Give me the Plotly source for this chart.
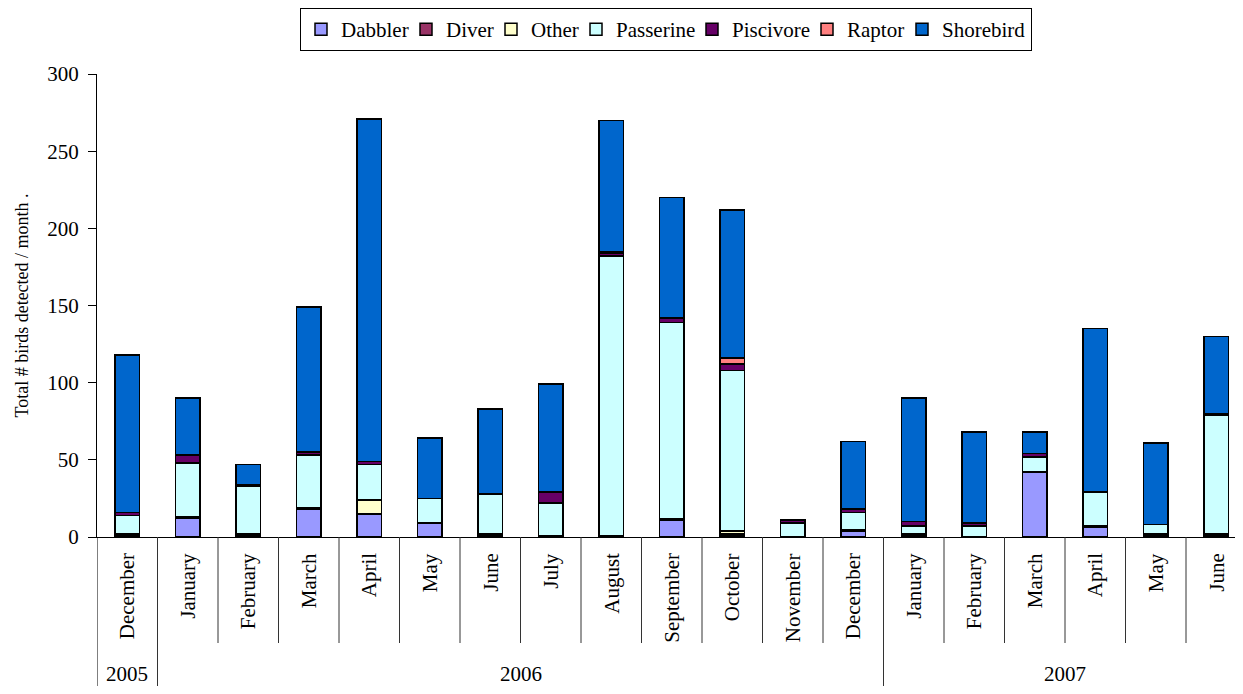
import plotly.graph_objects as go

months = ["December", "January", "February", "March", "April", "May", "June",
          "July", "August", "September", "October", "November", "December",
          "January", "February", "March", "April", "May", "June"]
years = ["2005", "2006", "2007"]
year_counts = [1, 12, 6]

categories = ["Dabbler", "Diver", "Other", "Passerine", "Piscivore", "Raptor", "Shorebird"]
dabbler   = [1, 12, 1, 18, 15, 9, 1, 1, 0, 11, 1, 0, 4, 1, 0, 42, 6, 1, 1]
diver     = [1, 1, 1, 1, 0, 0, 1, 0, 1, 1, 1, 0, 1, 1, 0, 0, 1, 1, 1]
other     = [0, 0, 0, 0, 9, 0, 0, 0, 0, 0, 2, 0, 0, 0, 0, 0, 0, 0, 0]
passerine = [12, 35, 31, 34, 23, 16, 26, 21, 181, 127, 104, 9, 11, 5, 7, 10, 22, 6, 77]
piscivore = [2, 5, 1, 2, 2, 0, 0, 7, 2, 3, 4, 2, 2, 3, 2, 2, 0, 0, 1]
raptor    = [0, 0, 0, 0, 0, 0, 0, 0, 1, 0, 4, 0, 0, 0, 0, 0, 0, 0, 0]
shorebird = [102, 37, 13, 94, 222, 39, 55, 70, 85, 78, 96, 0, 44, 80, 59, 14, 106, 53, 50]

series = [dabbler, diver, other, passerine, piscivore, raptor, shorebird]
colors = ["#9999FF", "#993366", "#FFFFCC", "#CCFFFF", "#660066", "#FF8080", "#0066CC"]
# legend entry widths (px) to keep the legend compact like the original
legend_widths = [60, 40, 40, 71, 70, 50, 84]

FONT = "Liberation Serif, Times New Roman, serif"
x = list(range(len(months)))

fig = go.Figure()
for name, vals, col, lw in zip(categories, series, colors, legend_widths):
    fig.add_trace(go.Bar(x=x, y=vals, name=name, legendwidth=lw,
                         marker=dict(color=col, line=dict(color="black", width=1.5))))

# page has an 8px body margin; figure sized to fit the window exactly
W, H = 1227, 678
OFF = 8
top, bottom = 74 - OFF, 537 - OFF     # plot area in figure pixels
ph = bottom - top
def py(p_page):
    return (bottom - (p_page - OFF)) / ph

shapes = []
annotations = []
# month separators
for i in range(len(months) - 1):
    shapes.append(dict(type="line", xref="x", yref="paper", x0=i + 0.5, x1=i + 0.5,
                       y0=0, y1=py(643), line=dict(color="#333333", width=1)))
# year separators and year labels
start = 0
for yi, (yr, n) in enumerate(zip(years, year_counts)):
    end = start + n
    if yi < len(years) - 1:
        shapes.append(dict(type="line", xref="x", yref="paper", x0=end - 0.5, x1=end - 0.5,
                           y0=0, y1=py(687), line=dict(color="#333333", width=1)))
    annotations.append(dict(x=(start + end - 1) / 2, y=py(674), xref="x", yref="paper",
                            text=yr, showarrow=False, xanchor="center", yanchor="middle",
                            font=dict(family=FONT, size=21, color="black")))
    start = end
# left axis extension
shapes.append(dict(type="line", xref="x", yref="paper", x0=-0.5, x1=-0.5,
                   y0=0, y1=py(700), line=dict(color="black", width=1)))
# month labels
for i, m in enumerate(months):
    annotations.append(dict(x=i, y=py(551), xref="x", yref="paper", text=m,
                            showarrow=False, textangle=-90, xanchor="center", yanchor="top",
                            font=dict(family=FONT, size=21, color="black")))

fig.update_layout(
    width=W, height=H, autosize=False,
    margin=dict(l=89, r=0, t=top, b=H - bottom, pad=0),
    barmode="stack", bargap=0.6,
    plot_bgcolor="white", paper_bgcolor="white",
    font=dict(family=FONT, size=20, color="black"),
    showlegend=True,
    legend=dict(orientation="h", x=0.5, xanchor="center", y=py(8), yanchor="top",
                bordercolor="black", borderwidth=1, font=dict(family=FONT, size=21),
                traceorder="normal", itemwidth=30),
    xaxis=dict(range=[-0.5, 18.31], showticklabels=False, ticks="", showgrid=False,
               zeroline=False, showline=True, linecolor="black", linewidth=1),
    yaxis=dict(range=[0, 300], dtick=50, ticks="outside", ticklen=8, tickcolor="black",
               showgrid=False, zeroline=False, showline=True, linecolor="black", linewidth=1,
               tickfont=dict(family=FONT, size=21), ticklabelstandoff=5,
               title=dict(text="Total # birds detected / month .", standoff=13,
                          font=dict(family=FONT, size=18))),
    shapes=shapes, annotations=annotations,
)

fig.write_html("out.html")
